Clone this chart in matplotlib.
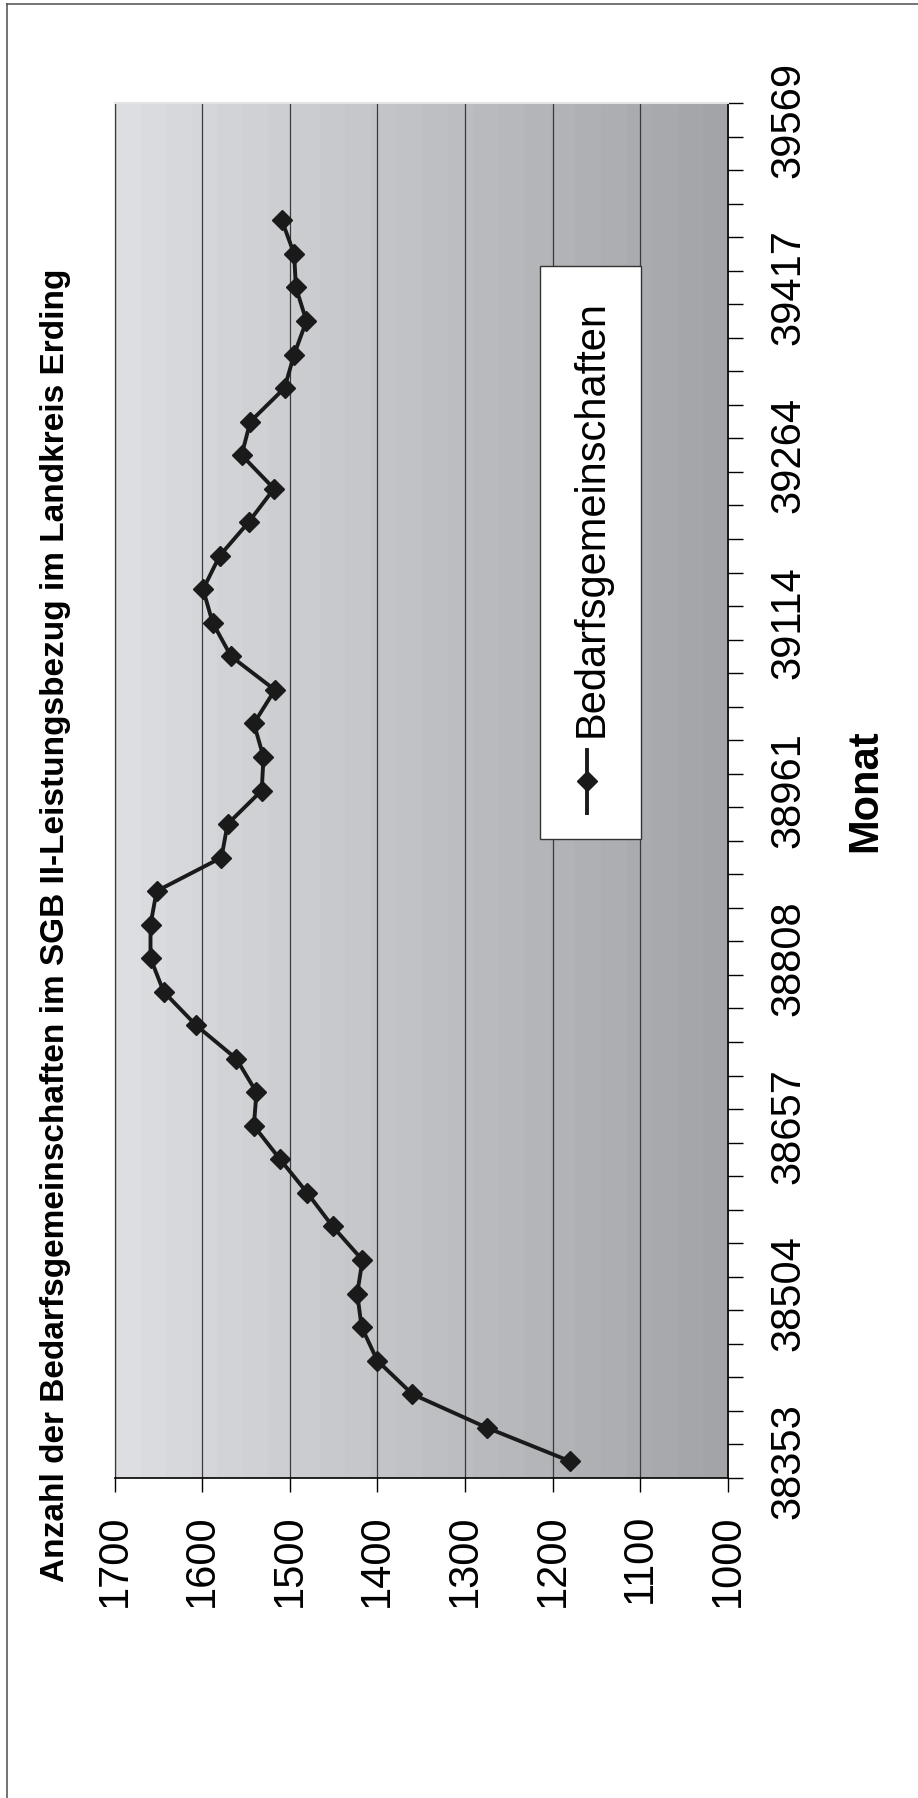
import matplotlib.pyplot as plt
import numpy as np
from matplotlib.colors import LinearSegmentedColormap
from matplotlib.lines import Line2D
from matplotlib.patches import Rectangle

plt.rcParams['font.family'] = ['Liberation Sans', 'DejaVu Sans']

# Bedarfsgemeinschaften je Monat, Jan 2005 bis Feb 2008
werte = [1180, 1275, 1360, 1400, 1418, 1423, 1417, 1451, 1480, 1511,
         1541, 1538, 1561, 1607, 1644, 1659, 1659, 1652, 1578, 1571,
         1532, 1530, 1541, 1517, 1567, 1588, 1599, 1580, 1547, 1518,
         1555, 1545, 1506, 1495, 1481, 1493, 1495, 1509]

# Monatsachse: 41 Monate (Jan 2005 - Mai 2008), beschriftet mit Excel-Datumswerten
n_monate = 41
monat_pos = [0, 5, 10, 15, 20, 25, 30, 35, 40]
monat_labels = ['38353', '38504', '38657', '38808', '38961',
                '39114', '39264', '39417', '39569']
wert_ticks = [1000, 1100, 1200, 1300, 1400, 1500, 1600, 1700]

titel = 'Anzahl der Bedarfsgemeinschaften im SGB II-Leistungsbezug im Landkreis Erding'
serie = 'Bedarfsgemeinschaften'

W, H = 918, 1798
fig = plt.figure(figsize=(W / 100, H / 100), dpi=100)


def fx(px):
    return px / W


def fy(py):
    return 1 - py / H


# chart is laid out turned on its side: values run right-to-left, months bottom-to-top
ax = fig.add_axes([fx(114.6), fy(1478), fx(727.7) - fx(114.6), fy(103) - fy(1478)])

cmap = LinearSegmentedColormap.from_list('grau', ['#dddee1', '#a3a4a8'])
grad = np.linspace(0, 1, 24).reshape(1, -1)
ax.imshow(grad, extent=[1700, 1000, 0, n_monate], aspect='auto', cmap=cmap,
          interpolation='nearest', zorder=0)

ax.set_xlim(1700, 1000)
ax.set_ylim(0, n_monate)

ax.set_xticks(wert_ticks)
ax.set_xticklabels([str(v) for v in wert_ticks])
ax.grid(axis='x', color='#3a3a3a', lw=0.9, zorder=1)
ax.set_axisbelow(True)
ax.tick_params(axis='x', which='major', direction='out', length=10, width=1,
               color='black', pad=16, labelsize=30, labelrotation=90)

ax.yaxis.tick_right()
ax.set_yticks(range(n_monate + 1))
ax.set_yticklabels([])
ax.set_yticks([p + 0.5 for p in monat_pos], minor=True)
ax.set_yticklabels(monat_labels, minor=True)
ax.tick_params(axis='y', which='major', direction='out', length=11, width=1,
               color='black', right=True, left=False)
ax.tick_params(axis='y', which='minor', length=0, pad=29, labelsize=30,
               labelrotation=90, right=True, left=False)
for lbl in ax.get_yticklabels(minor=True):
    lbl.set_va('center')
    lbl.set_ha('left')

for side in ['bottom', 'right']:
    ax.spines[side].set_color('black')
    ax.spines[side].set_linewidth(1.2)
ax.spines['left'].set_color('#3a3a3a')
ax.spines['left'].set_linewidth(0.9)
ax.spines['top'].set_color('#e4e4e4')
ax.spines['top'].set_linewidth(1.5)

monate = np.arange(len(werte)) + 0.5
ax.plot(werte, monate, color='#1a1a1a', lw=2.8, marker='D', ms=10,
        mfc='#1a1a1a', mec='#1a1a1a', zorder=3, clip_on=False)

# legend box
fig.add_artist(Rectangle((fx(540), fy(839)), fx(641) - fx(540), (839 - 266) / H,
                         transform=fig.transFigure, facecolor='white',
                         edgecolor='#333333', lw=1, zorder=5))
fig.add_artist(Line2D([fx(587), fx(587)], [fy(750), fy(813)], transform=fig.transFigure,
                      color='#1a1a1a', lw=2.8, zorder=6))
fig.add_artist(Line2D([fx(587)], [fy(781)], transform=fig.transFigure, marker='D',
                      ms=10, mfc='#1a1a1a', mec='#1a1a1a', zorder=6))
fig.text(fx(592), fy(737), serie, rotation=90, ha='center', va='bottom',
         fontsize=30, zorder=6)

fig.text(fx(56), fy(925), titel, rotation=90, ha='center', va='center',
         fontsize=24, fontweight='bold')
fig.text(fx(865), fy(791), 'Monat', rotation=90, ha='center', va='center',
         fontsize=30, fontweight='bold')

# chart area frame
fig.add_artist(Line2D([fx(6.5), fx(6.5)], [0, fy(3.5)], transform=fig.transFigure,
                      color='#4d4d4d', lw=1.1))
fig.add_artist(Line2D([fx(6.5), 1], [fy(3.5), fy(3.5)], transform=fig.transFigure,
                      color='#4d4d4d', lw=1.1))

fig.savefig('out.png', dpi=100)
